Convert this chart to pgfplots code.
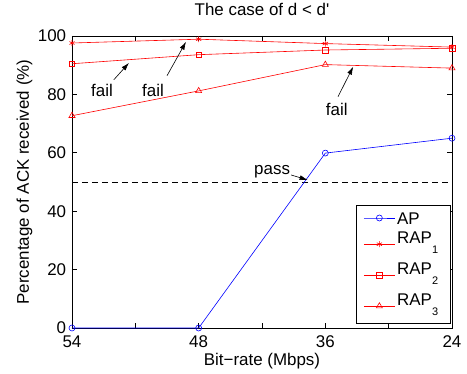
\documentclass[border=0pt]{standalone}
\usepackage{fontspec}
\setmainfont{Liberation Sans}
\usepackage{pgfplots}
\pgfplotsset{compat=1.18}
\usetikzlibrary{arrows.meta}
\definecolor{mred}{RGB}{255,0,0}
\definecolor{mblue}{RGB}{0,0,255}
\newcommand{\sub}[1]{\raisebox{-10bp}[0pt][0pt]{\fontsize{11}{11}\selectfont #1}}
\newcommand{\lent}[1]{\makebox[44bp][l]{#1}}
\begin{document}
\fontsize{17}{20}\selectfont
\begin{tikzpicture}
\begin{axis}[
  scale only axis, width=380bp, height=292bp,
  xmin=0, xmax=3, ymin=0, ymax=100,
  clip=false,
  xtick={0,0.5,1,1.5,2,2.5,3},
  xticklabels={54,{},48,{},36,{},24},
  ytick={0,20,40,60,80,100},
  /pgf/number format/assume math mode=true,
  tick label style={font=\fontsize{17}{20}\selectfont},
  xticklabel style={yshift=-2bp},
  label style={font=\fontsize{17}{20}\selectfont},
  title style={font=\fontsize{17}{20}\selectfont, at={(axis description cs:0.5,1.0514)}, anchor=base},
  xlabel style={at={(axis description cs:0.5,-0.1301)}, anchor=base},
  ylabel style={at={(axis description cs:-0.1132,0.5)}, anchor=base},
  major tick length=5bp,
  tick style={black, line width=0.6bp},
  axis line style={line width=0.6bp},
  title={The case of d < d\textquotesingle},
  xlabel={Bit−rate (Mbps)},
  ylabel={Percentage of ACK received (\%)},
  legend cell align=left,
  legend style={at={(axis description cs:0.996,0.0137)}, anchor=south east,
    font=\fontsize{17}{20}\selectfont, draw=black, line width=0.6bp,
    inner xsep=7bp, inner ysep=4bp, row sep=4bp, column sep=0bp,
    nodes={inner xsep=2bp, inner ysep=0bp}},
  legend image code/.code={\draw[mark repeat=2,mark phase=2] plot coordinates {(0bp,0bp) (15.5bp,0bp) (31bp,0bp)};},
]
\addplot[black, line width=0.6bp, dash pattern=on 6bp off 4bp, forget plot] coordinates {(0,50) (3,50)};
\addplot[mblue, line width=0.6bp, mark=o, mark size=3bp, mark options={solid}] coordinates {(0,0) (1,0) (2,59.9) (3,65)};
\addlegendentry[text height=15.4bp, text depth=2bp]{\lent{AP}}
\addplot[mred, line width=0.6bp, mark=asterisk, mark size=3bp] coordinates {(0,97.6) (1,98.9) (2,97.4) (3,96.2)};
\addlegendentry[text height=12.5bp, text depth=14.5bp]{\lent{RAP\sub{1}}}
\addplot[mred, line width=0.6bp, mark=square, mark size=2.8bp] coordinates {(0,90.5) (1,93.6) (2,95.2) (3,95.8)};
\addlegendentry[text height=12.5bp, text depth=14.5bp]{\lent{RAP\sub{2}}}
\addplot[mred, line width=0.6bp, mark=triangle, mark size=3.5bp] coordinates {(0,72.7) (1,81.2) (2,90.2) (3,89.0)};
\addlegendentry[text height=12.5bp, text depth=14.5bp]{\lent{RAP\sub{3}}}
\node at (axis cs:0.237,81.2) {fail};
\draw[-{Latex[length=8bp,width=5bp]}, line width=0.6bp] (axis cs:0.33,85.0) -- (axis cs:0.45,90.8);
\node at (axis cs:0.64,81.2) {fail};
\draw[-{Latex[length=8bp,width=5bp]}, line width=0.6bp] (axis cs:0.75,86.4) -- (axis cs:0.90,98.0);
\node at (axis cs:2.09,74.7) {fail};
\draw[-{Latex[length=8bp,width=5bp]}, line width=0.6bp] (axis cs:2.10,79.2) -- (axis cs:2.22,89.5);
\node at (axis cs:1.58,53.5) {pass};
\draw[-{Latex[length=8bp,width=5bp]}, line width=0.6bp] (axis cs:1.73,52.4) -- (axis cs:1.86,50.7);
\end{axis}
\pgfresetboundingbox
\path (-72bp,-46bp) rectangle (395bp,328bp);
\end{tikzpicture}
\end{document}
